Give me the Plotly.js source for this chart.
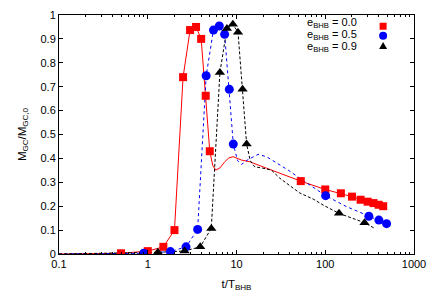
<!DOCTYPE html>
<html>
<head>
<meta charset="utf-8">
<script src="https://cdn.plot.ly/plotly-3.0.1.min.js"></script>
<style>html,body{margin:0;padding:0;background:#fff;}#chart{width:436px;height:305px;}</style>
</head>
<body>
<div id="chart"></div>
<script>
// ---- data (t/T_BHB, M_GC/M_GC,0) ----
// e = 0.0 : symbols
var t00 = [0.5, 1.0, 1.5, 2.0, 2.5, 3.0, 3.5, 4.0, 4.5, 5.0, 53, 100, 150, 200, 250, 300, 350, 400, 450];
var m00 = [0.003, 0.012, 0.03, 0.10, 0.74, 0.937, 0.95, 0.90, 0.662, 0.43, 0.305, 0.27, 0.254, 0.24, 0.227, 0.219, 0.213, 0.206, 0.20];
// e = 0.0 : continuous curve
var t00c = [0.1, 0.5, 1.0, 1.5, 2.0, 2.5, 3.0, 3.5, 4.0, 4.5, 5.0, 5.4, 5.84, 6.5, 7.38, 8.2, 9.16, 11.4, 14.1, 21.8, 33.5, 53, 100, 150, 200, 250, 300, 350, 400, 450];
var m00c = [0.0, 0.003, 0.012, 0.03, 0.10, 0.74, 0.937, 0.95, 0.90, 0.662, 0.43, 0.37, 0.351, 0.36, 0.386, 0.402, 0.407, 0.393, 0.386, 0.359, 0.333, 0.305, 0.27, 0.254, 0.24, 0.227, 0.219, 0.213, 0.206, 0.20];

// e = 0.5 : symbols
var t05 = [0.9, 1.8, 2.7, 3.65, 4.55, 5.5, 6.4, 7.35, 8.3, 9.2, 101, 310, 402, 491];
var m05 = [0.003, 0.01, 0.03, 0.103, 0.746, 0.937, 0.954, 0.919, 0.689, 0.46, 0.244, 0.158, 0.142, 0.127];
// e = 0.5 : continuous curve
var t05c = [0.1, 0.9, 1.8, 2.7, 3.65, 4.55, 5.5, 6.4, 7.35, 8.3, 9.2, 10.3, 11.4, 13.5, 17.5, 21.8, 29.4, 38.2, 51.7, 67, 101, 174, 310, 402, 491];
var m05c = [0.0, 0.003, 0.01, 0.03, 0.103, 0.746, 0.937, 0.954, 0.919, 0.689, 0.46, 0.39, 0.375, 0.395, 0.417, 0.407, 0.379, 0.351, 0.317, 0.289, 0.244, 0.198, 0.158, 0.142, 0.127];

// e = 0.9 : symbols
var t09 = [1.3, 2.6, 3.9, 5.2, 6.5, 7.8, 9.1, 10.4, 11.7, 13.0, 143, 277];
var m09 = [0.007, 0.0125, 0.03, 0.107, 0.759, 0.944, 0.961, 0.928, 0.689, 0.46, 0.17, 0.131];
// e = 0.9 : continuous curve
var t09c = [0.1, 1.3, 2.6, 3.9, 5.2, 6.5, 7.8, 9.1, 10.4, 11.7, 13.0, 14.3, 16.0, 19.9, 24.8, 30.8, 39.9, 51.7, 73, 94.6, 143, 277, 362];
var m09c = [0.0, 0.007, 0.0125, 0.03, 0.107, 0.759, 0.944, 0.961, 0.928, 0.689, 0.46, 0.39, 0.365, 0.359, 0.351, 0.317, 0.285, 0.255, 0.23, 0.205, 0.17, 0.131, 0.107];

var legendLabels = ['e<sub>BHB</sub> = 0.0', 'e<sub>BHB</sub> = 0.5', 'e<sub>BHB</sub> = 0.9'];
var xTickVals = [0.1, 1, 10, 100, 1000];
var xTickText = ['0.1', '1', '10', '100', '1000'];
var yTickVals = [0, 0.1, 0.2, 0.3, 0.4, 0.5, 0.6, 0.7, 0.8, 0.9, 1];
var yTickText = ['0', '0.1', '0.2', '0.3', '0.4', '0.5', '0.6', '0.7', '0.8', '0.9', '1'];

var RED = '#ff0000', BLUE = '#0000ff', BLACK = '#000000';
var FONT = 'Liberation Sans, Arial, Helvetica, sans-serif';

// minor tick positions on the log axis (2..9 of each decade)
var minorVals = [];
for (var d = -1; d < 3; d++) {
  for (var k = 2; k <= 9; k++) minorVals.push(k * Math.pow(10, d));
}

var traces = [
  {x: t00c, y: m00c, mode: 'lines', line: {color: RED, width: 1}, showlegend: false, hoverinfo: 'skip'},
  {x: t05c, y: m05c, mode: 'lines', line: {color: BLUE, width: 1, dash: 'dot'}, showlegend: false, hoverinfo: 'skip'},
  {x: t09c, y: m09c, mode: 'lines', line: {color: BLACK, width: 1, dash: '3px,2px'}, showlegend: false, hoverinfo: 'skip'},
  {x: t00, y: m00, mode: 'markers', name: legendLabels[0], marker: {symbol: 'square', size: 8, color: RED}, showlegend: false},
  {x: t05, y: m05, mode: 'markers', name: legendLabels[1], marker: {symbol: 'circle', size: 9, color: BLUE}, showlegend: false},
  {x: t09, y: m09, mode: 'markers', name: legendLabels[2], marker: {symbol: 'triangle-up', size: 9, color: BLACK}, showlegend: false}
];

// legend built from annotations (text first, symbol after, as in the reference)
var legY = [0.965, 0.915, 0.868];
var legX = 0.845;
var symX = 0.913;
var annotations = legendLabels.map(function (s, i) {
  return {xref: 'paper', yref: 'paper', x: legX, y: legY[i], xanchor: 'right', yanchor: 'middle',
          text: s, showarrow: false, font: {family: FONT, size: 11, color: '#000'}};
});
var shapes = [
  {type: 'rect', xref: 'paper', yref: 'paper', xsizemode: 'pixel', ysizemode: 'pixel',
   xanchor: symX, yanchor: legY[0] - 0.012, x0: -3.5, x1: 3.5, y0: -3.5, y1: 3.5,
   fillcolor: RED, line: {width: 0}},
  {type: 'circle', xref: 'paper', yref: 'paper', xsizemode: 'pixel', ysizemode: 'pixel',
   xanchor: symX, yanchor: legY[1] - 0.002, x0: -4, x1: 4, y0: -4, y1: 4,
   fillcolor: BLUE, line: {width: 0}},
  {type: 'path', xref: 'paper', yref: 'paper', xsizemode: 'pixel', ysizemode: 'pixel',
   xanchor: symX, yanchor: legY[2] + 0.002, path: 'M -4 -3 L 4 -3 L 0 4 Z',
   fillcolor: BLACK, line: {width: 0}}
];

var layout = {
  width: 436, height: 305,
  margin: {l: 59, r: 22, t: 15, b: 51, pad: 0},
  paper_bgcolor: '#fff', plot_bgcolor: '#fff',
  font: {family: FONT, size: 11, color: '#000'},
  showlegend: false,
  xaxis: {
    type: 'log', range: [-1, 3],
    tickmode: 'array', tickvals: xTickVals, ticktext: xTickText,
    ticks: 'inside', ticklen: 4, tickwidth: 1, tickcolor: '#000',
    showline: true, linecolor: '#000', linewidth: 1, mirror: 'allticks',
    showgrid: false, zeroline: false,
    minor: {tickmode: 'array', tickvals: minorVals, ticks: 'inside', ticklen: 2, tickcolor: '#000', showgrid: false},
    tickfont: {family: FONT, size: 11},
    title: {text: 't/T<sub>BHB</sub>', font: {family: FONT, size: 11.5}, standoff: 10}
  },
  yaxis: {
    range: [0, 1],
    tickmode: 'array', tickvals: yTickVals, ticktext: yTickText,
    ticks: 'inside', ticklen: 4, tickwidth: 1, tickcolor: '#000',
    showline: true, linecolor: '#000', linewidth: 1, mirror: 'allticks',
    showgrid: false, zeroline: false,
    tickfont: {family: FONT, size: 11},
    title: {text: 'M<sub>GC</sub>/M<sub>GC,0</sub>', font: {family: FONT, size: 11.5}, standoff: 11}
  },
  annotations: annotations,
  shapes: shapes
};

Plotly.newPlot('chart', traces, layout, {staticPlot: true, displayModeBar: false});
</script>
</body>
</html>
